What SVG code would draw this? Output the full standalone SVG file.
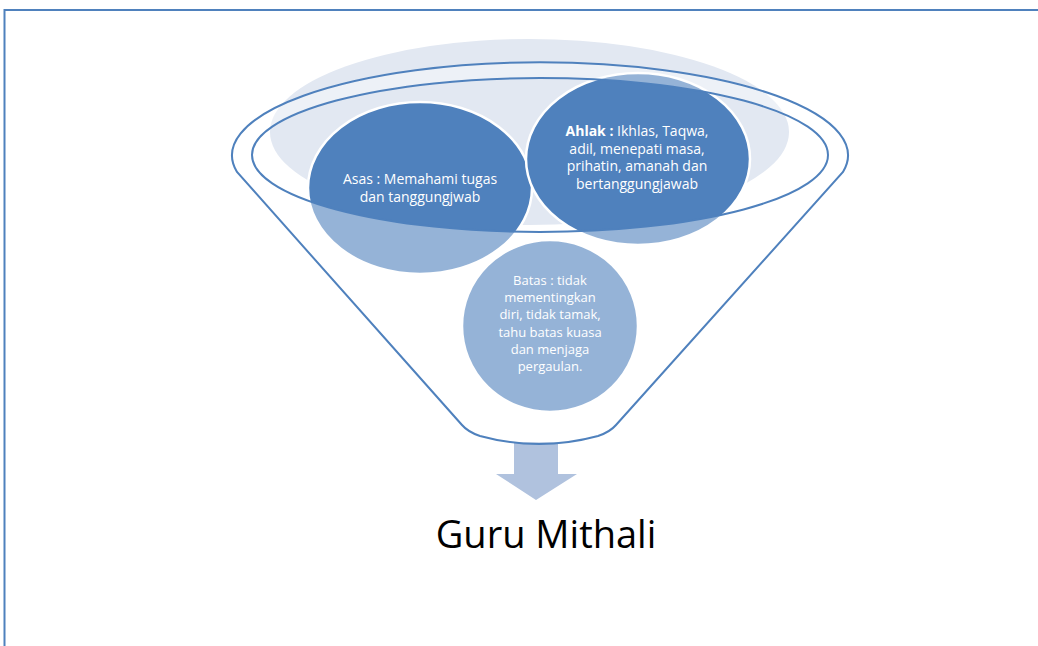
<svg xmlns="http://www.w3.org/2000/svg" width="1038" height="646" viewBox="0 0 1038 646">
  <style>
    .frame { stroke: #4f81bd; stroke-width: 2; fill: none; }
    .circ { fill: #4f81bd; stroke: #ffffff; stroke-width: 2.5; }
    .lbl { font-family: "Open Sans", "Noto Sans", sans-serif; fill: #ffffff; text-anchor: middle; }
    .rim { stroke: #4f81bd; stroke-width: 2; }
    .title { font-family: "Open Sans", "Noto Sans", sans-serif; font-size: 38px; fill: #000000; text-anchor: middle; }
  </style>
  <rect width="1038" height="646" fill="#ffffff"/>
  <g id="frame">
    <path class="frame" d="M4.5,646 L4.5,10 L1038,10"/>
  </g>
  <g id="back-ellipse">
    <ellipse cx="529.5" cy="132" rx="259.5" ry="93" fill="#e2e8f2"/>
  </g>
  <g id="node-asas">
    <ellipse class="circ" cx="420" cy="188" rx="112" ry="86"/>
  </g>
  <g id="node-ahlak">
    <ellipse class="circ" cx="638" cy="159" rx="112" ry="86"/>
  </g>
  <g id="node-batas">
    <ellipse class="circ" cx="550" cy="326" rx="88" ry="86"/>
  </g>
  <g id="connectors">
    <polygon points="514,442 558,442 558,474 577,474 536,500 496,474 514,474" fill="#b0c2de"/>
  </g>
  <g id="funnel">
    <path class="rim" fill="#ffffff" fill-opacity="0.4" fill-rule="evenodd"
      d="M237,172 A308,93 0 1 1 843,172 L616,425 Q610,432 598,436 Q539,452 480,436 Q468,432 462,425 Z
         M252,155 A288,77 0 1 0 828,155 A288,77 0 1 0 252,155 Z"/>
  </g>
  <g id="labels">
    <text class="lbl" font-size="14" x="420" y="184">Asas : Memahami tugas</text>
    <text class="lbl" font-size="14" x="420" y="202">dan tanggungjwab</text>
    <text class="lbl" font-size="14" x="637" y="136"><tspan font-weight="bold">Ahlak :</tspan> Ikhlas, Taqwa,</text>
    <text class="lbl" font-size="14" x="637" y="154">adil, menepati masa,</text>
    <text class="lbl" font-size="14" x="637" y="171">prihatin, amanah dan</text>
    <text class="lbl" font-size="14" x="637" y="189">bertanggungjawab</text>
    <text class="lbl" font-size="13" x="550" y="285">Batas : tidak</text>
    <text class="lbl" font-size="13" x="550" y="302">mementingkan</text>
    <text class="lbl" font-size="13" x="550" y="319">diri, tidak tamak,</text>
    <text class="lbl" font-size="13" x="550" y="337">tahu batas kuasa</text>
    <text class="lbl" font-size="13" x="550" y="354">dan menjaga</text>
    <text class="lbl" font-size="13" x="550" y="371">pergaulan.</text>
  </g>
  <g id="node-result">
    <text class="title" x="546" y="548">Guru Mithali</text>
  </g>
</svg>
